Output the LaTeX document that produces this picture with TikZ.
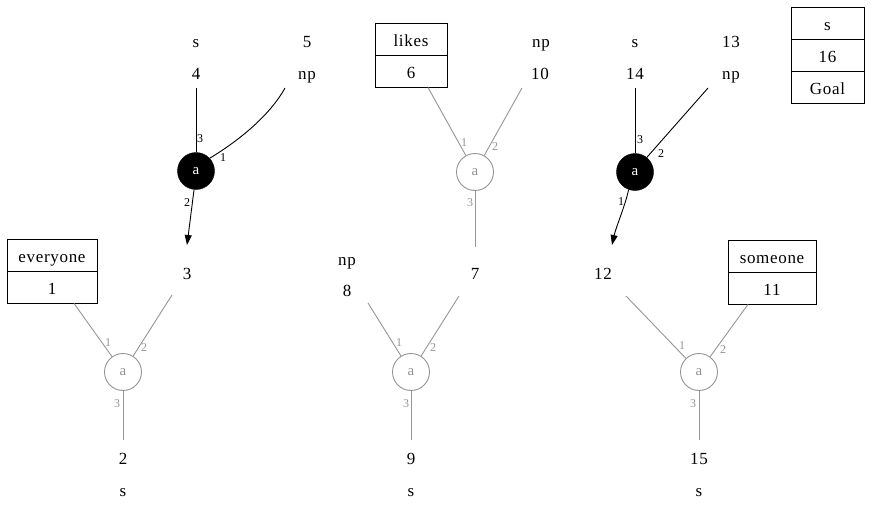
\documentclass[tikz,border=0pt]{standalone}
\usepackage{fontspec}
\setmainfont{Liberation Serif}[LetterSpace=4]
\usetikzlibrary{arrows.meta}
\definecolor{ghost}{RGB}{150,150,150}
\begin{document}
\begin{tikzpicture}[x=1pt,y=-1pt,
  txt/.style={font=\fontsize{17}{19}\selectfont, inner sep=0pt, anchor=base},
  cell/.style={draw, line width=0.9pt, font=\fontsize{17}{19}\selectfont, inner sep=0pt, text height=15pt, text depth=0pt, minimum height=32pt},
  port/.style={font=\fontsize{12}{13}\selectfont, inner sep=0pt},
  gport/.style={port, text=ghost},
  blk/.style={circle, fill=black, draw=black, minimum size=37pt, inner sep=0pt, text=white, font=\fontsize{15}{16}\selectfont},
  gry/.style={circle, fill=white, draw=ghost, line width=0.9pt, minimum size=37pt, inner sep=0pt, text=ghost, font=\fontsize{15}{16}\selectfont},
  bl/.style={draw=black, line width=0.9pt},
  gr/.style={draw=ghost, line width=0.9pt},
  arr/.style={-{Triangle[length=10pt,width=7pt]}}]
\fill[white] (0,0) rectangle (871,511);
\useasboundingbox (0,0) rectangle (871,511);

% free texts
\node[txt] (s4) at (196,48) {s};
\node[txt] (n4) at (196,80) {4};
\node[txt] (n5) at (307,48) {5};
\node[txt] (np5) at (307,80) {np};
\node[txt] (np10) at (541,48) {np};
\node[txt] (n10) at (540,80) {10};
\node[txt] (s14) at (635,48) {s};
\node[txt] (n14) at (635,80) {14};
\node[txt] (n13) at (731,48) {13};
\node[txt] (np13) at (731,80) {np};
\node[txt] (n3) at (187,279) {3};
\node[txt] (n7) at (475,279) {7};
\node[txt] (n12) at (603,279) {12};
\node[txt] (np8) at (347,265) {np};
\node[txt] (n8) at (347,296) {8};
\node[txt] (n2) at (123,464) {2};
\node[txt] (s2) at (123,496) {s};
\node[txt] (n9) at (411,464) {9};
\node[txt] (s9) at (411,496) {s};
\node[txt] (n15) at (699,464) {15};
\node[txt] (s15) at (699,496) {s};

% record boxes
\node[cell, minimum width=72pt] (likes) at (411,39) {likes};
\node[cell, minimum width=72pt] (b6) at (411,71) {6};
\node[cell, minimum width=90pt] (everyone) at (52,255) {everyone};
\node[cell, minimum width=90pt] (b1) at (52,287) {1};
\node[cell, minimum width=88pt] (someone) at (772,256) {someone};
\node[cell, minimum width=88pt] (b11) at (772,288) {11};
\node[cell, minimum width=73pt] (gs) at (827.5,23) {s};
\node[cell, minimum width=73pt] (g16) at (827.5,55) {16};
\node[cell, minimum width=73pt] (goal) at (827.5,87) {Goal};

% circles
\node[blk] (c1) at (196,171) {a};
\node[gry] (c2) at (475,172) {a};
\node[blk] (c3) at (635,172) {a};
\node[gry] (c4) at (123,372) {a};
\node[gry] (c5) at (411,372) {a};
\node[gry] (c6) at (699,372) {a};

% left top
\draw[bl] ([shift={(0,8)}]n4.base) -- (c1.north);
\draw[bl] ([shift={(-22,8)}]np5.base) .. controls +(-15,27) and +(30,-18) .. (c1.43);
\draw[bl,arr] (c1.264) -- ([shift={(0,-34)}]n3.base);
\node[port] (p1a) at (200,139) {3};
\node[port] (p1b) at (223,158) {1};
\node[port] (p1c) at (187,203) {2};

% middle top
\draw[gr] ([shift={(17,0)}]b6.south) -- (c2);
\draw[gr] ([shift={(-18,8)}]n10.base) -- (c2);
\draw[gr] (c2) -- ([shift={(0,-32)}]n7.base);
\node[gport] (p2a) at (464,143) {1};
\node[gport] (p2b) at (495,147) {2};
\node[gport] (p2c) at (470,203) {3};

% right top
\draw[bl] ([shift={(0,8)}]n14.base) -- (c3.north);
\draw[bl] ([shift={(-23,8)}]np13.base) -- (c3.51);
\draw[bl,arr] (c3.250) .. controls +(-3,15) and +(4,-18) .. ([shift={(9,-34)}]n12.base);
\node[port] (p3a) at (640,140) {3};
\node[port] (p3b) at (661,154) {2};
\node[port] (p3c) at (621,202) {1};

% left bottom
\draw[gr] ([shift={(22,0)}]b1.south) -- (c4);
\draw[gr] ([shift={(-15,16)}]n3.base) -- (c4);
\draw[gr] (c4) -- ([shift={(0,-24)}]n2.base);
\node[gport] (p4a) at (108,343) {1};
\node[gport] (p4b) at (144,348) {2};
\node[gport] (p4c) at (117,404) {3};

% middle bottom
\draw[gr] ([shift={(21,7)}]n8.base) -- (c5);
\draw[gr] ([shift={(-16,17)}]n7.base) -- (c5);
\draw[gr] (c5) -- ([shift={(0,-24)}]n9.base);
\node[gport] (p5a) at (399,343) {1};
\node[gport] (p5b) at (433,348) {2};
\node[gport] (p5c) at (406,404) {3};

% right bottom
\draw[gr] ([shift={(23,17)}]n12.base) -- (c6);
\draw[gr] ([shift={(-24,0)}]b11.south) -- (c6);
\draw[gr] (c6) -- ([shift={(0,-24)}]n15.base);
\node[gport] (p6a) at (682,346) {1};
\node[gport] (p6b) at (723,350) {2};
\node[gport] (p6c) at (693,404) {3};
\end{tikzpicture}
\end{document}
